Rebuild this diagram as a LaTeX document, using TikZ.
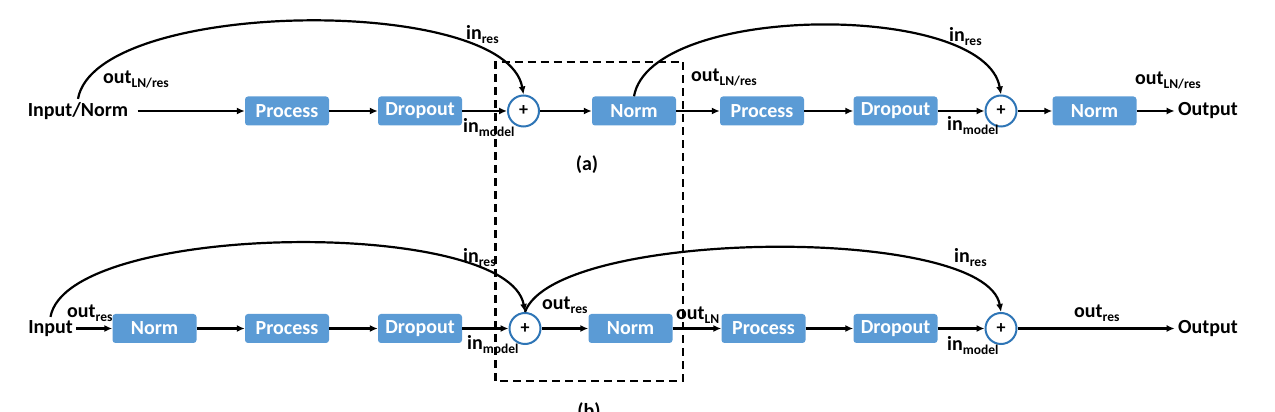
\documentclass[tikz,border=0pt]{standalone}
\usepackage{fontspec}
\setmainfont{Carlito}
\usetikzlibrary{positioning,arrows.meta}
\definecolor{blockblue}{RGB}{91,155,213}
\definecolor{sumblue}{RGB}{46,117,182}
\newcommand\subtxt[1]{\raisebox{-4pt}{\fontsize{13.5}{14}\selectfont #1}}

\begin{document}
\begin{tikzpicture}[x=1pt,y=1pt,on grid,
    >={Latex[length=8pt,width=7pt]},
    every node/.style={font=\fontsize{20}{24}\selectfont\bfseries},
    block/.style={fill=blockblue,text=white,rounded corners=3pt,
      minimum width=84pt,minimum height=29pt,inner sep=0pt},
    sum/.style={circle,draw=sumblue,line width=2pt,fill=white,
      minimum size=31pt,inner sep=0pt,font=\fontsize{18}{20}\selectfont\bfseries},
    tag/.style={anchor=base west,inner sep=0pt},
    flow/.style={->,line width=2.2pt},
    focus/.style={line width=2.2pt,dash pattern=on 8pt off 5pt}]
\useasboundingbox (0,0) rectangle (1275,412);

% (a)
\node (inA) at (78,301) {Input/Norm};
\node[block] (procA1) [right=209pt of inA] {Process};
\node[block] (dropA1) [right=133pt of procA1] {Dropout};
\node[sum] (sumA1) [right=103.5pt of dropA1] {+};
\node[block] (normA1) [right=110.5pt of sumA1] {Norm};
\node[block] (procA2) [right=128pt of normA1] {Process};
\node[block] (dropA2) [right=133.5pt of procA2] {Dropout};
\node[sum] (sumA2) [right=105.5pt of dropA2] {+};
\node[block] (normA2) [right=93.5pt of sumA2] {Norm};
\node (outA) [right=113.5pt of normA2] {Output};

\path[flow]
  (inA) edge[shorten <=6pt] (procA1)
  (procA1) edge (dropA1)
  (dropA1) edge (sumA1)
  (sumA1) edge (normA1)
  (normA1) edge (procA2)
  (procA2) edge (dropA2)
  (dropA2) edge (sumA2)
  (sumA2) edge (normA2)
  (normA2) edge (outA);
\draw[flow] (inA.north) to[out=80,in=100,looseness=0.585] (sumA1.north);
\draw[flow] (normA1.north) to[out=80,in=100,looseness=0.66] (sumA2.north);

\node[tag] (tA1) at (103,328) {out\subtxt{LN/res}};
\node[tag] (tA2) at (466,372) {in\subtxt{res}};
\node[tag] (tA3) at (463,279) {in\subtxt{model}};
\node[tag] (tA4) at (691,330) {out\subtxt{LN/res}};
\node[tag] (tA5) at (949,370) {in\subtxt{res}};
\node[tag] (tA6) at (947,281) {in\subtxt{model}};
\node[tag] (tA7) at (1135,327) {out\subtxt{LN/res}};
\node[anchor=base] (capA) at (587,241) {(a)};

% (b)
\node (inB) at (50.5,83.5) {Input};
\node[block] (normB1) [right=104pt of inB] {Norm};
\node[block] (procB1) [right=132.5pt of normB1] {Process};
\node[block] (dropB1) [right=133pt of procB1] {Dropout};
\node[sum] (sumB1) [right=105pt of dropB1] {+};
\node[block] (normB2) [right=105.5pt of sumB1] {Norm};
\node[block] (procB2) [right=133pt of normB2] {Process};
\node[block] (dropB2) [right=132pt of procB2] {Dropout};
\node[sum] (sumB2) [right=105.5pt of dropB2] {+};
\node (outB) [right=207pt of sumB2] {Output};

\path[flow]
  (inB) edge (normB1)
  (normB1) edge (procB1)
  (procB1) edge (dropB1)
  (dropB1) edge (sumB1)
  (sumB1) edge (normB2)
  (normB2) edge (procB2)
  (procB2) edge (dropB2)
  (dropB2) edge (sumB2)
  (sumB2) edge (outB);
\draw[flow] (inB.north) to[out=80,in=100,looseness=0.52] (sumB1.north);
\draw[flow] (sumB1.north) to[out=70,in=100,looseness=0.48] (sumB2.north);

\node[tag] (tB1) at (67,94) {out\subtxt{res}};
\node[tag] (tB2) at (463,149) {in\subtxt{res}};
\node[tag] (tB3) at (467,62) {in\subtxt{model}};
\node[tag] (tB4) at (542,102) {out\subtxt{res}};
\node[tag] (tB5) at (676,92) {out\subtxt{LN}};
\node[tag] (tB6) at (954,149) {in\subtxt{res}};
\node[tag] (tB7) at (947,61) {in\subtxt{model}};
\node[tag] (tB8) at (1074,94) {out\subtxt{res}};
\node[anchor=base] (capB) at (589,-6) {(b)};

% shared block
\draw[focus] (495.5,31) rectangle (683,350);
\end{tikzpicture}
\end{document}
